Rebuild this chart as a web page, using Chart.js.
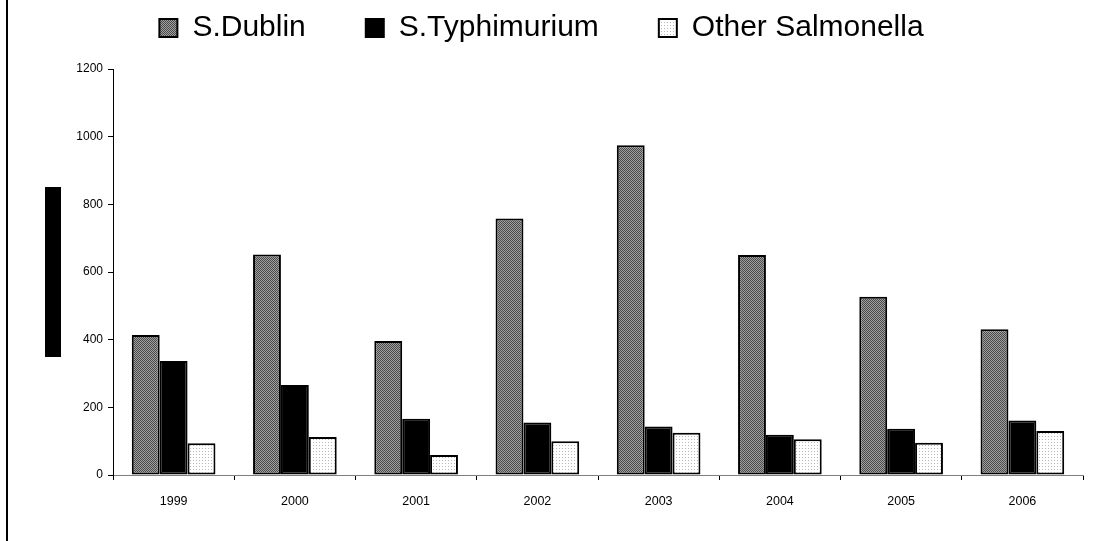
<!DOCTYPE html>
<html>
<head>
<meta charset="utf-8">
<script src="https://cdn.jsdelivr.net/npm/chart.js@4.4.1/dist/chart.umd.min.js"></script>
<style>
  html, body { margin: 0; padding: 0; background: #fff; }
  #wrap { position: relative; width: 1107px; height: 541px; overflow: hidden; }
  #frame { position: absolute; left: 6px; top: 0; width: 2px; height: 541px; background: #000; }
  #ytitle { position: absolute; left: 45px; top: 187px; width: 16px; height: 170px; background: #000; }
  canvas { position: absolute; left: 0; top: 0; }
</style>
</head>
<body>
<div id="wrap">
  <canvas id="c" width="1107" height="541"></canvas>
  <div id="frame"></div>
  <div id="ytitle"></div>
</div>
<script>
const categories = ['1999', '2000', '2001', '2002', '2003', '2004', '2005', '2006'];
const seriesNames = ['S.Dublin', 'S.Typhimurium', 'Other Salmonella'];
const dublin = [414, 652, 396, 758, 975, 650, 527, 431];
const typhimurium = [337, 266, 166, 155, 143, 119, 137, 161];
const otherSalmonella = [94, 112, 59, 100, 125, 106, 95, 130];
const yTicks = [0, 200, 400, 600, 800, 1000, 1200];

function makePattern(size, draw) {
  const c = document.createElement('canvas');
  c.width = size; c.height = size;
  const g = c.getContext('2d');
  draw(g);
  return document.getElementById('c').getContext('2d').createPattern(c, 'repeat');
}
const greyPattern = makePattern(2, g => {
  g.fillStyle = '#a0a0a0'; g.fillRect(0, 0, 2, 2);
  g.fillStyle = '#4a4a4a'; g.fillRect(0, 0, 1, 1); g.fillRect(1, 1, 1, 1);
});
const dotPattern = makePattern(3, g => {
  g.fillStyle = '#ffffff'; g.fillRect(0, 0, 3, 3);
  g.fillStyle = '#b8b8b8'; g.fillRect(1, 1, 1, 1);
});

const LEG_PAD = 60;
const legendFix = {
  id: 'legendFix',
  beforeInit(chart) {
    const lg = chart.legend;
    const orig = lg.fit;
    lg.fit = function () { orig.call(this); this.height = 69; };
  },
  afterLayout(chart) {
    chart.legend.top = 13 - LEG_PAD;
  }
};

new Chart(document.getElementById('c'), {
  type: 'bar',
  data: {
    labels: categories,
    datasets: [
      { label: seriesNames[0], data: dublin, backgroundColor: greyPattern },
      { label: seriesNames[1], data: typhimurium, backgroundColor: '#000000' },
      { label: seriesNames[2], data: otherSalmonella, backgroundColor: dotPattern }
    ]
  },
  options: {
    responsive: false,
    animation: false,
    devicePixelRatio: 1,
    layout: { padding: { left: 0, right: 24, top: 0, bottom: 0 } },
    datasets: {
      bar: {
        categoryPercentage: 0.69,
        barPercentage: 1.0,
        borderColor: '#000000',
        borderWidth: 2,
        borderSkipped: false
      }
    },
    plugins: {
      legend: {
        position: 'top',
        labels: {
          boxWidth: 18,
          boxHeight: 18,
          padding: LEG_PAD,
          color: '#000',
          font: { family: '"Liberation Sans", Arial, sans-serif', size: 30 }
        }
      },
      tooltip: { enabled: false }
    },
    scales: {
      x: {
        afterFit(s) { s.height = 66; },
        grid: { display: true, drawOnChartArea: false, drawTicks: true, tickLength: 5, color: '#000', offset: true },
        border: { display: true, color: '#808080', width: 1 },
        ticks: {
          color: '#000',
          padding: 14,
          font: { family: '"Liberation Sans", Arial, sans-serif', size: 12.5 }
        }
      },
      y: {
        min: 0,
        max: 1200,
        afterFit(s) { s.width = 113; },
        afterBuildTicks(s) { s.ticks = yTicks.map(v => ({ value: v })); },
        grid: { display: true, drawOnChartArea: false, drawTicks: true, tickLength: 5, color: '#000' },
        border: { display: true, color: '#000', width: 1 },
        ticks: {
          color: '#000',
          padding: 5,
          callback: v => String(v),
          font: { family: '"Liberation Sans", Arial, sans-serif', size: 12 }
        }
      }
    }
  },
  plugins: [legendFix]
});
</script>
</body>
</html>
